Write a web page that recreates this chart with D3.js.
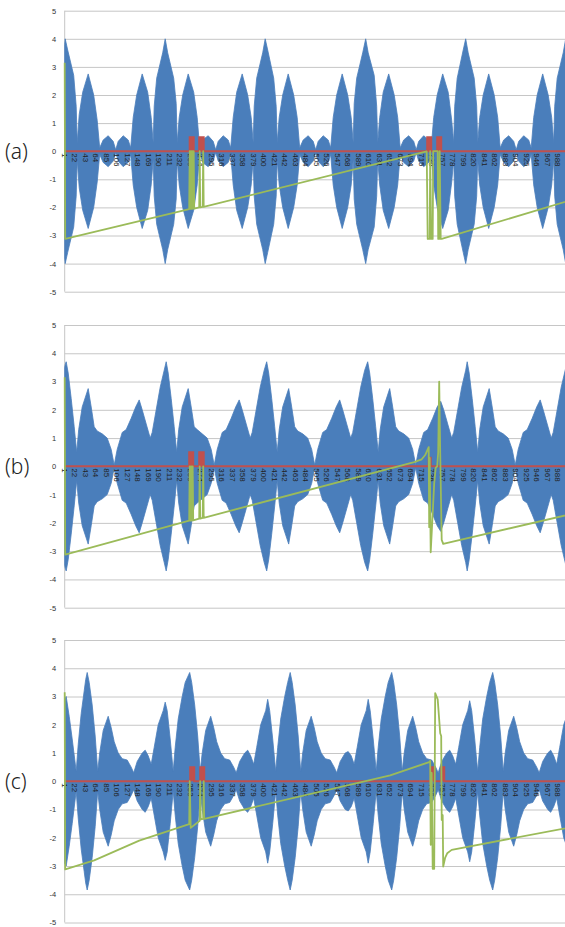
<!DOCTYPE html>
<html>
<head>
<meta charset="utf-8">
<script src="https://cdn.jsdelivr.net/npm/d3@7/dist/d3.min.js"></script>
<style>
  body { margin: 0; background: #fff; }
  svg { display: block; }
  .ylab, .xlab { font-family: "Liberation Sans", Arial, sans-serif; }
  .plabel { font-family: "Noto Sans", "Liberation Sans", sans-serif; font-weight: 300; fill: #222; }
</style>
</head>
<body>
<svg id="chart" width="565" height="927"></svg>
<script>
// ---- data ----
var yTicks = [5, 4, 3, 2, 1, 0, -1, -2, -3, -4, -5];
var xTicks = [1, 22, 43, 64, 85, 106, 127, 148, 169, 190, 211, 232, 253, 274, 295, 316, 337, 358, 379, 400,
  421, 442, 463, 484, 505, 526, 547, 568, 589, 610, 631, 652, 673, 694, 715, 736, 757, 778, 799, 820,
  841, 862, 883, 904, 925, 946, 967, 988];
var nPoints = 1024;

// blue signal: envelope (peak amplitude) at sample n, signal swings between +v and -v
var envA_n = [1,
  2,7,19,24,26,30,37,48,59,66,71,78,88,98,103,108,118,128,133,138,145,156,167,174,178,180,185,197,
  202,207,219,224,226,230,237,248,259,266,271,278,288,298,303,308,318,328,333,338,345,356,367,374,378,380,385,397,
  402,407,419,424,426,430,437,448,459,466,471,478,488,498,503,508,518,528,533,538,545,556,567,574,578,580,585,597,
  603,608,620,625,627,631,638,649,660,667,672,679,689,699,704,709,719,729,734,739,746,757,768,775,779,781,786,798,
  803,808,820,825,827,831,838,849,860,867,872,879,889,899,904,909,919,929,934,939,946,957,968,975,979,981,986,998,
  1003,1008,1020,1025,1027,1031];
var envA_v = [3.8,
  4.0,3.6,2.7,1.6,0.3,1.3,2.1,2.75,2.0,1.1,0.12,0.4,0.55,0.35,0.05,0.35,0.55,0.4,0.12,1.2,2.0,2.75,2.1,1.2,0.3,1.6,2.6,3.5,
  4.0,3.5,2.6,1.7,0.3,1.2,2.0,2.75,2.1,1.2,0.1,0.42,0.55,0.35,0.05,0.35,0.55,0.4,0.12,1.2,2.1,2.75,2.0,1.2,0.3,1.6,2.6,3.5,
  4.0,3.6,2.6,1.6,0.3,1.2,2.0,2.75,2.0,1.2,0.12,0.4,0.55,0.35,0.05,0.35,0.55,0.4,0.12,1.2,2.0,2.75,2.0,1.2,0.3,1.7,2.6,3.5,
  4.0,3.5,2.7,1.6,0.3,1.2,2.1,2.75,2.0,1.2,0.12,0.4,0.55,0.35,0.05,0.35,0.55,0.4,0.12,1.2,2.0,2.75,2.1,1.1,0.3,1.6,2.6,3.6,
  4.0,3.5,2.6,1.6,0.3,1.2,2.0,2.75,2.0,1.2,0.12,0.4,0.55,0.35,0.05,0.35,0.55,0.4,0.12,1.2,2.0,2.75,2.0,1.2,0.3,1.6,2.6,3.5,
  4.0,3.5,2.6,1.6,0.3,1.2];

var envB_n = [1,2,
  4,8,14,20,25,29,36,48,54,60,66,76,86,94,100,106,116,124,134,143,150,156,164,172,176,184,192,200,
  204,208,214,220,225,229,236,248,254,260,266,276,286,294,300,306,316,324,334,343,350,356,364,372,376,384,392,400,
  405,409,415,421,426,430,437,449,455,461,467,477,487,495,501,507,517,525,535,544,551,557,565,573,577,585,593,601,
  607,611,617,623,628,632,639,651,657,663,669,679,689,697,703,709,719,727,737,746,753,759,767,775,779,787,795,803,
  806,810,816,822,827,831,838,850,856,862,868,878,888,896,902,908,918,926,936,945,952,958,966,974,978,986,994,1002,
  1006,1010,1016,1022,1027,1031];
var envB_v = [3.5,3.6,
  3.7,3.3,2.4,1.4,0.5,1.3,2.1,2.75,2.1,1.4,1.25,1.15,1.0,0.6,0.05,0.6,1.2,1.3,1.7,2.1,2.35,2.0,1.5,1.0,1.2,2.0,2.8,3.4,
  3.7,3.3,2.4,1.4,0.5,1.3,2.1,2.75,2.1,1.4,1.3,1.15,1.0,0.6,0.05,0.6,1.2,1.3,1.7,2.1,2.35,2.0,1.5,1.0,1.2,2.0,2.8,3.4,
  3.7,3.3,2.4,1.4,0.5,1.3,2.1,2.75,2.1,1.4,1.25,1.15,1.0,0.6,0.05,0.6,1.2,1.3,1.7,2.1,2.35,2.0,1.5,1.0,1.2,2.0,2.8,3.4,
  3.7,3.3,2.4,1.4,0.5,1.3,2.1,2.75,2.1,1.4,1.25,1.15,1.0,0.6,0.05,0.6,1.2,1.3,1.7,2.1,2.3,2.0,1.5,1.0,1.2,2.0,2.8,3.4,
  3.7,3.3,2.4,1.4,0.5,1.3,2.1,2.75,2.1,1.4,1.25,1.15,1.0,0.6,0.05,0.6,1.2,1.3,1.7,2.1,2.35,2.0,1.5,1.0,1.2,2.0,2.8,3.4,
  3.7,3.3,2.4,1.4,0.5,1.3];

var envC_n = [1,4,10,16,24,28,34,40,43,
  46,50,56,62,67,71,78,88,94,100,108,116,126,134,139,146,156,162,168,174,180,188,198,202,206,212,218,222,228,236,242,
  251,255,261,267,272,276,283,293,299,305,313,321,331,339,344,351,361,367,373,379,385,393,403,407,411,417,423,427,433,441,447,
  452,456,462,468,473,477,484,494,500,506,514,522,532,540,545,552,562,568,574,580,586,594,604,608,612,618,624,628,634,642,648,
  655,659,665,671,676,680,687,697,703,709,717,725,735,743,748,755,765,771,777,783,789,797,807,811,815,821,827,831,837,845,851,
  857,861,867,873,878,882,889,899,905,911,919,927,937,945,950,957,967,973,979,985,991,999,1009,1013,1017,1023,1029];
var envC_v = [2.9,3.0,2.3,1.5,0.35,1.3,2.4,3.2,3.6,
  3.85,3.5,2.7,1.6,0.35,1.0,1.8,2.3,1.9,1.4,1.0,0.8,0.75,0.5,0.3,0.7,1.0,1.1,0.9,0.6,1.2,2.0,2.5,2.8,2.5,1.5,0.35,1.2,2.2,3.0,3.5,
  3.85,3.5,2.7,1.6,0.35,1.0,1.8,2.3,1.9,1.4,1.0,0.8,0.75,0.5,0.3,0.7,1.0,1.1,0.9,0.6,1.2,2.0,2.5,2.9,2.5,1.5,0.35,1.2,2.2,3.0,3.5,
  3.85,3.5,2.7,1.6,0.35,1.0,1.8,2.3,1.9,1.4,1.0,0.8,0.75,0.5,0.3,0.7,1.0,1.05,0.9,0.6,1.2,2.0,2.5,2.9,2.5,1.5,0.35,1.2,2.2,3.0,3.5,
  3.85,3.5,2.7,1.6,0.35,1.0,1.8,2.3,1.9,1.4,1.0,0.8,0.75,0.5,0.3,0.7,1.0,1.1,0.9,0.6,1.2,2.0,2.5,2.85,2.5,1.5,0.35,1.2,2.2,3.0,3.5,
  3.85,3.5,2.7,1.6,0.35,1.0,1.8,2.3,1.9,1.4,1.0,0.8,0.75,0.5,0.3,0.7,1.0,1.1,0.9,0.6,1.2,2.0,2.5,2.85,2.5,1.5,0.35];

// red pulses: start sample, end sample, level (0 elsewhere)
var redA_start = [251, 270, 276, 726, 731, 746, 751];
var redA_end   = [259, 273, 279, 729, 734, 749, 754];
var redA_val   = [0.5, 0.5, 0.5, 0.5, 0.5, 0.5, 0.5];
var redB_start = [250, 270, 276, 729];
var redB_end   = [258, 273, 279, 733];
var redB_val   = [0.5, 0.5, 0.5, 0.3];
var redC_start = [252, 272, 733, 754];
var redC_end   = [260, 280, 740, 760];
var redC_val   = [0.5, 0.5, 0.5, 0.5];

// green trace vertices
var greenA_n = [1,2,250,251,252,253,254,255,256,257,258,259,260,270,271,272,277,278,279,
  725,727,731,732,734,737,738,747,748,750,751,753,755,1030];
var greenA_v = [3.15,-3.12,-2.06,0,-2.05,0,-2.05,0,-2.05,0,-2.04,0,-2.04,-2.0,0,-2.0,-1.98,0,-1.98,
  -0.01,-3.12,-3.12,0,-3.12,-3.12,0,0,-3.12,-3.12,0,-3.12,-3.12,-1.65];
var greenB_n = [1,2,250,251,252,253,254,255,256,257,258,270,271,272,277,278,279,
  700,715,722,727,729,730,731,733,736,740,743,746,748,750,752,755,758,1030];
var greenB_v = [3.15,-3.12,-1.92,0,-1.92,0,-1.92,0,-1.91,0,-1.91,-1.85,0,-1.85,-1.82,0,-1.82,
  0.15,0.25,0.4,0.6,0.68,-2.15,0.3,-3.04,-2.0,-0.6,-0.05,0.0,0.5,3.0,0.5,-2.6,-2.74,-1.62];
var greenC_n = [1,2,60,150,250,251,253,271,272,273,278,279,280,
  652,730,732,733,735,737,740,742,747,752,754,755,757,758,762,766,775,1030];
var greenC_v = [3.15,-3.12,-2.8,-2.1,-1.52,0,-1.65,-1.4,0,-1.35,-1.33,0,-1.33,
  0.21,0.68,0.72,-2.25,0.3,-3.1,-3.1,3.12,2.9,1.7,1.6,-1.37,-1.2,-3.02,-2.7,-2.55,-2.43,-1.57];

var panelLabels = ["(a)", "(b)", "(c)"];

// ---- layout ----
var svg = d3.select("#chart");
var left = 64.7, pxPerSample = 0.5;
var plotRight = 565;
var frames = [{top: 10.7, bottom: 291.7}, {top: 325, bottom: 607.7}, {top: 640, bottom: 922.5}];

var panels = [
  {env_n: envA_n, env_v: envA_v, rs: redA_start, re: redA_end, rv: redA_val, gn: greenA_n, gv: greenA_v},
  {env_n: envB_n, env_v: envB_v, rs: redB_start, re: redB_end, rv: redB_val, gn: greenB_n, gv: greenB_v},
  {env_n: envC_n, env_v: envC_v, rs: redC_start, re: redC_end, rv: redC_val, gn: greenC_n, gv: greenC_v}
];

var x = d3.scaleLinear().domain([1, nPoints]).range([left, left + (nPoints - 1) * pxPerSample]);

panels.forEach(function (p, i) {
  var f = frames[i];
  var y = d3.scaleLinear().domain([-5, 5]).range([f.bottom, f.top]);
  var g = svg.append("g");

  // gridlines + y labels
  var yAxis = g.append("g")
    .attr("transform", "translate(" + left + ",0)")
    .call(d3.axisLeft(y).tickValues(yTicks).tickSize(-(plotRight - left)).tickPadding(8.5).tickFormat(String));
  yAxis.select(".domain").remove();
  yAxis.selectAll("line").attr("stroke", "#c6c6c6").attr("stroke-width", 1);
  yAxis.selectAll("text").attr("class", "ylab").attr("font-size", 7.5).attr("fill", "#333");

  // vertical axis line
  g.append("line")
    .attr("x1", left).attr("x2", left)
    .attr("y1", f.top).attr("y2", f.bottom)
    .attr("stroke", "#c6c6c6").attr("stroke-width", 1);

  // blue signal band
  var env = p.env_n.map(function (n, k) { return [n, p.env_v[k]]; });
  var area = d3.area()
    .x(function (d) { return x(d[0]); })
    .y0(function (d) { return y(-d[1]); })
    .y1(function (d) { return y(d[1]); });
  g.append("path")
    .datum(env)
    .attr("d", area)
    .attr("fill", "#4a7ebb")
    .attr("stroke", "#4a7ebb")
    .attr("stroke-width", 0.8);

  // x labels
  g.selectAll(".xlab")
    .data(xTicks)
    .enter()
    .append("text")
    .attr("class", "xlab")
    .attr("font-size", 8)
    .attr("fill", "#222")
    .attr("transform", function (d) { return "translate(" + x(d) + "," + (y(0) + 2) + ") rotate(90)"; })
    .attr("dy", "0.35em")
    .text(function (d) { return d; });

  // red pulses (solid bars on the zero line)
  var red = [[1, 0]];
  p.rs.forEach(function (s, k) {
    red.push([s, 0], [s, p.rv[k]], [p.re[k], p.rv[k]], [p.re[k], 0]);
  });
  red.push([nPoints, 0]);
  var line = d3.line()
    .x(function (d) { return x(d[0]); })
    .y(function (d) { return y(d[1]); });
  g.append("path")
    .datum(red)
    .attr("d", line)
    .attr("fill", "#c0504d")
    .attr("stroke", "#c0504d")
    .attr("stroke-width", 2);

  // green trace
  var green = p.gn.map(function (n, k) { return [n, p.gv[k]]; });
  g.append("path")
    .datum(green)
    .attr("d", line)
    .attr("fill", "none")
    .attr("stroke", "#9bbb59")
    .attr("stroke-width", 1.8)
    .attr("stroke-linejoin", "round");

  // panel label
  svg.append("text")
    .attr("class", "plabel")
    .attr("x", 5)
    .attr("y", y(0) + 8)
    .attr("font-size", 21)
    .text(panelLabels[i]);
});
</script>
</body>
</html>
